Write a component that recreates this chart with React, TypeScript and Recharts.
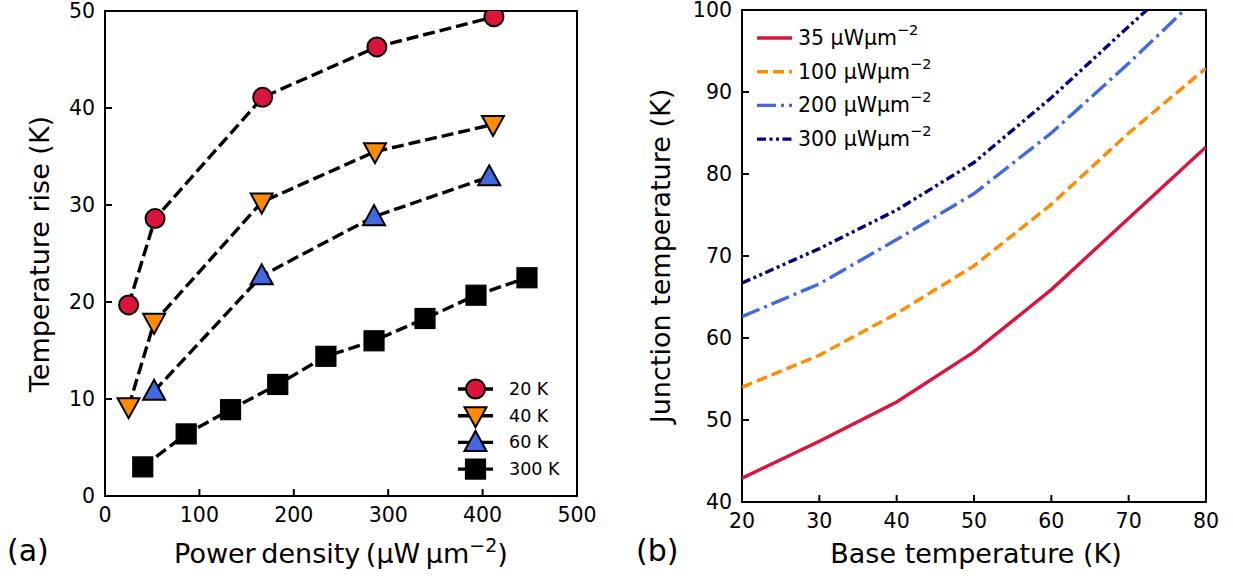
import React from 'react';
import { LineChart, Line, XAxis, YAxis, ReferenceArea, Legend } from 'recharts';

const FONT = '"DejaVu Sans", Verdana, sans-serif';

// ---- Panel (a) data ----
const power20K = [25, 53, 167, 288, 412];
const rise20K = [19.7, 28.6, 41.1, 46.3, 49.4];
const power40K = [25, 52, 166, 286, 411];
const rise40K = [9.2, 17.9, 30.3, 35.5, 38.3];
const power60K = [52, 166, 285, 407];
const rise60K = [10.8, 22.7, 28.8, 32.9];
const power300K = [40, 86, 133, 183, 234, 285, 339, 393, 447];
const rise300K = [3.0, 6.4, 8.9, 11.5, 14.4, 16.0, 18.3, 20.7, 22.5];
const xTicksA = [0, 100, 200, 300, 400, 500];
const yTicksA = [0, 10, 20, 30, 40, 50];

// ---- Panel (b) data ----
const baseTemp = [20, 30, 40, 50, 60, 70, 80];
const junction35 = [42.9, 47.4, 52.2, 58.3, 65.9, 74.6, 83.3];
const junction100 = [54.0, 57.9, 63.0, 68.8, 76.3, 85.0, 92.9];
const junction200 = [62.6, 66.6, 72.0, 77.6, 85.0, 93.5, 102.5];
const junction300 = [66.7, 70.9, 75.6, 81.4, 89.3, 98.0, 106.5];
const xTicksB = [20, 30, 40, 50, 60, 70, 80];
const yTicksB = [40, 50, 60, 70, 80, 90, 100];

const zip = (xs: number[], ys: number[]) => xs.map((x, i) => ({ x, y: ys[i] }));

const dataA = [
  { name: '20 K', data: zip(power20K, rise20K), marker: 'circle', color: '#DC143C' },
  { name: '40 K', data: zip(power40K, rise40K), marker: 'tdown', color: '#FF8C00' },
  { name: '60 K', data: zip(power60K, rise60K), marker: 'tup', color: '#4169E1' },
  { name: '300 K', data: zip(power300K, rise300K), marker: 'square', color: '#000000' },
];

const bRows = baseTemp.map((t, i) => ({
  t,
  p35: junction35[i],
  p100: junction100[i],
  p200: junction200[i],
  p300: junction300[i],
}));

const seriesB = [
  { key: 'p35', label: '35', color: '#DC143C', dash: undefined as string | undefined },
  { key: 'p100', label: '100', color: '#FF8C00', dash: '11 5' },
  { key: 'p200', label: '200', color: '#4169E1', dash: '19 5 3 5' },
  { key: 'p300', label: '300', color: '#000080', dash: '9 3.5 3 3.5 3 3.5' },
];

function Marker({ cx, cy, kind, color }: { cx: number; cy: number; kind: string; color: string }) {
  if (cx == null || cy == null) return null;
  if (kind === 'circle') return <circle cx={cx} cy={cy} r={9.5} fill={color} stroke="#000" strokeWidth={2} />;
  if (kind === 'square') return <rect x={cx - 10} y={cy - 10} width={20} height={20} fill={color} stroke="#000" strokeWidth={1.2} />;
  if (kind === 'tdown') {
    return <polygon points={`${cx - 11},${cy - 8.5} ${cx + 11},${cy - 8.5} ${cx},${cy + 11.5}`} fill={color} stroke="#000" strokeWidth={2} strokeLinejoin="miter" />;
  }
  return <polygon points={`${cx - 11},${cy + 8.5} ${cx + 11},${cy + 8.5} ${cx},${cy - 11.5}`} fill={color} stroke="#000" strokeWidth={2} strokeLinejoin="miter" />;
}

const makeYTick = (fs: number) => (props: any) => {
  const { x, y, payload } = props;
  return (
    <g>
      <line x1={x} x2={x + 7} y1={y} y2={y} stroke="#000" strokeWidth={2} />
      <text x={x - 10} y={y} textAnchor="end" dominantBaseline="central" fontSize={fs} fontFamily={FONT} fill="#000">
        {payload.value}
      </text>
    </g>
  );
};

const makeXTick = (fs: number) => (props: any) => {
  const { x, y, payload } = props;
  return (
    <g>
      <line x1={x} x2={x} y1={y} y2={y - 7} stroke="#000" strokeWidth={2} />
      <text x={x} y={y + 10} dy="0.76em" textAnchor="middle" fontSize={fs} fontFamily={FONT} fill="#000">
        {payload.value}
      </text>
    </g>
  );
};

const LegendA = () => (
  <svg width={130} height={110} style={{ display: 'block' }}>
    {dataA.map((s, i) => {
      const cy = 12 + i * 26.7;
      return (
        <g key={s.name}>
          <line x1={3} x2={38} y1={cy} y2={cy} stroke="#000" strokeWidth={3.4} />
          <Marker cx={20.5} cy={cy} kind={s.marker} color={s.color} />
          <text x={54} y={cy} dominantBaseline="central" fontSize={17.5} fontFamily={FONT} fill="#000">
            {s.name}
          </text>
        </g>
      );
    })}
  </svg>
);

const LegendB = () => (
  <svg width={220} height={140} style={{ display: 'block' }}>
    {seriesB.map((s, i) => {
      const cy = 20 + i * 33.7;
      return (
        <g key={s.key}>
          <line x1={2} x2={37} y1={cy} y2={cy} stroke={s.color} strokeWidth={3.4} strokeDasharray={s.dash} />
          <text x={43} y={cy + 7} fontSize={20.5} fontFamily={FONT} fill="#000">
            {s.label} μWμm
            <tspan dy={-10} fontSize={14.5}>−2</tspan>
          </text>
        </g>
      );
    })}
  </svg>
);

export default function App() {
  return (
    <div style={{ position: 'absolute', left: 0, top: 0, width: 1233, height: 579, background: '#fff', overflow: 'hidden' }}>
      <div style={{ position: 'absolute', left: 0, top: 0 }}>
        <LineChart width={620} height={579} margin={{ top: 11, left: 45, right: 43, bottom: 43 }}>
          <XAxis type="number" dataKey="x" domain={[0, 500]} ticks={xTicksA} height={40} tickSize={0} tickMargin={0} axisLine={false} tickLine={false} tick={makeXTick(20.5)} interval={0} allowDataOverflow />
          <YAxis type="number" domain={[0, 50]} ticks={yTicksA} width={60} tickSize={0} tickMargin={0} axisLine={false} tickLine={false} tick={makeYTick(20.5)} interval={0} allowDataOverflow />
          <ReferenceArea x1={0} x2={500} y1={0} y2={50} fill="none" stroke="#000" strokeWidth={2} ifOverflow="visible" />
          {dataA.map((s) => (
            <Line
              key={s.name}
              data={s.data}
              dataKey="y"
              type="linear"
              stroke="#000"
              strokeWidth={3.4}
              strokeDasharray="12 5"
              isAnimationActive={false}
              dot={(p: any) => <Marker key={`${s.name}-${p.index}`} cx={p.cx} cy={p.cy} kind={s.marker} color={s.color} />}
              activeDot={false}
            />
          ))}
          <Legend layout="vertical" align="center" verticalAlign="middle" content={() => <LegendA />} wrapperStyle={{ left: 455, top: 377, width: 130, height: 110 }} />
        </LineChart>
      </div>
      <div style={{ position: 'absolute', left: 620, top: 0 }}>
        <LineChart width={613} height={579} data={bRows} margin={{ top: 10, left: 62, right: 27, bottom: 37 }}>
          <XAxis type="number" dataKey="t" domain={[20, 80]} ticks={xTicksB} height={40} tickSize={0} tickMargin={0} axisLine={false} tickLine={false} tick={makeXTick(20.5)} interval={0} allowDataOverflow />
          <YAxis type="number" domain={[40, 100]} ticks={yTicksB} width={60} tickSize={0} tickMargin={0} axisLine={false} tickLine={false} tick={makeYTick(20.5)} interval={0} allowDataOverflow />
          {seriesB.map((s) => (
            <Line
              key={s.key}
              dataKey={s.key}
              type="linear"
              stroke={s.color}
              strokeWidth={3.4}
              strokeDasharray={s.dash}
              dot={false}
              activeDot={false}
              isAnimationActive={false}
            />
          ))}
          <ReferenceArea x1={20} x2={80} y1={40} y2={100} fill="none" stroke="#000" strokeWidth={2} ifOverflow="visible" />
          <Legend layout="vertical" align="center" verticalAlign="middle" content={() => <LegendB />} wrapperStyle={{ left: 135, top: 18, width: 220, height: 140 }} />
        </LineChart>
      </div>
      <svg width={1233} height={579} style={{ position: 'absolute', left: 0, top: 0, pointerEvents: 'none' }} fontFamily={FONT}>
        <text x={39} y={254} transform="rotate(-90 39 254)" textAnchor="middle" dominantBaseline="central" fontSize={27}>
          Temperature rise (K)
        </text>
        <text x={341} y={563} textAnchor="middle" fontSize={27} wordSpacing={-3}>
          Power density (μW μm<tspan dy={-11} fontSize={19}>−2</tspan><tspan dy={11}>)</tspan>
        </text>
        <text x={660} y={256} transform="rotate(-90 660 256)" textAnchor="middle" dominantBaseline="central" fontSize={27}>
          Junction temperature (K)
        </text>
        <text x={976} y={563} textAnchor="middle" fontSize={27}>
          Base temperature (K)
        </text>
        <text x={7} y={561} fontSize={30}>(a)</text>
        <text x={636} y={561} fontSize={30}>(b)</text>
      </svg>
    </div>
  );
}
